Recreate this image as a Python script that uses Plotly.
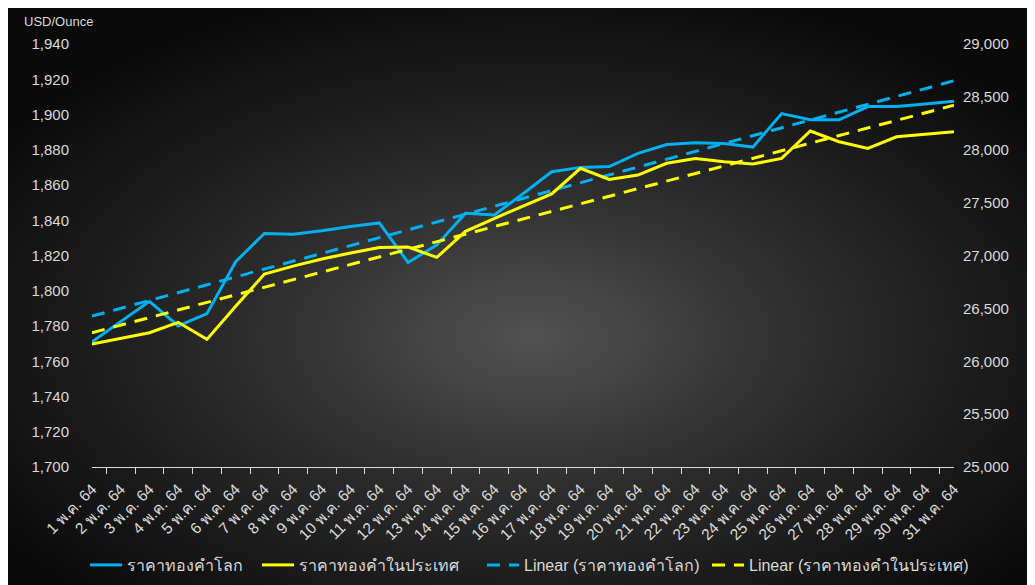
import base64
import numpy as np
import plotly.graph_objects as go

days = [f"{d} พ.ค. 64" for d in range(1, 32)]

world_usd = [1771, 1782.5, 1794, 1780, 1787, 1816.5, 1832.5, 1832, 1834, 1836.5,
             1838.5, 1816, 1826, 1844, 1843, 1855, 1867.5, 1870, 1870.5, 1878,
             1883, 1884, 1883.5, 1881.5, 1900.5, 1897, 1897, 1904.5, 1904.5, 1906,
             1907.5]

thai_thb = [26163, 26217, 26270, 26368, 26207, 26520, 26825, 26900, 26967, 27024,
            27075, 27080, 26982, 27229, 27352, 27468, 27582, 27825, 27720, 27761,
            27872, 27918, 27887, 27865, 27918, 28177, 28076, 28013, 28123, 28150,
            28171]

name_world = "ราคาทองคำโลก"
name_thai = "ราคาทองคำในประเทศ"

left_ticks = list(range(1700, 1941, 20))
right_ticks = list(range(25000, 29001, 500))

# Excel-style linear trendlines (least squares over category index)
idx = np.arange(1, len(days) + 1)
cw = np.polyfit(idx, world_usd, 1)
ct = np.polyfit(idx, thai_thb, 1)
trend_world = np.polyval(cw, idx)
trend_thai = np.polyval(ct, idx)

BLUE = "#00B0F0"
YELLOW = "#FFFF00"
TXT = "#d9d9d9"
FONT = "Liberation Sans, Arial, sans-serif"

fig = go.Figure()
fig.add_trace(go.Scatter(x=days, y=world_usd, name=name_world, mode="lines",
                         line=dict(color=BLUE, width=3), yaxis="y", legend="legend"))
fig.add_trace(go.Scatter(x=days, y=thai_thb, name=name_thai, mode="lines",
                         line=dict(color=YELLOW, width=3), yaxis="y2", legend="legend2"))
fig.add_trace(go.Scatter(x=days, y=trend_world, name=f"Linear ({name_world})", mode="lines",
                         line=dict(color=BLUE, width=3, dash="13px,9px"), yaxis="y",
                         legend="legend3"))
fig.add_trace(go.Scatter(x=days, y=trend_thai, name=f"Linear ({name_thai})", mode="lines",
                         line=dict(color=YELLOW, width=3, dash="13px,9px"), yaxis="y2",
                         legend="legend4"))

# figure is placed at (8,8) in the page
W, H = 1027, 577
L, T = 84, 36
pw, ph = 862, 423
R = W - L - pw
B = H - T - ph

svg = ("<svg xmlns='http://www.w3.org/2000/svg' width='1027' height='577'>"
       "<defs><radialGradient id='g' cx='0.51' cy='0.57' r='0.62'>"
       "<stop offset='0' stop-color='#525252'/>"
       "<stop offset='0.45' stop-color='#2c2c2c'/>"
       "<stop offset='1' stop-color='#0a0a0a'/>"
       "</radialGradient></defs>"
       "<rect width='1027' height='577' fill='url(#g)'/></svg>")
uri = "data:image/svg+xml;base64," + base64.b64encode(svg.encode()).decode()

fig.add_layout_image(dict(source=uri, xref="paper", yref="paper",
                          x=-L / pw, y=(H - B) / ph,
                          sizex=W / pw, sizey=H / ph,
                          xanchor="left", yanchor="top", sizing="stretch",
                          layer="below"))


def leg(screen_x):
    return dict(orientation="h", x=(screen_x - 8 - L) / pw, xanchor="left",
                y=(T + ph - 557) / ph, yanchor="middle",
                font=dict(size=16, color=TXT), bgcolor="rgba(0,0,0,0)",
                itemwidth=32, borderwidth=0)


fig.update_layout(
    width=W, height=H,
    margin=dict(l=L, r=R, t=T, b=B, autoexpand=False),
    paper_bgcolor="white",
    plot_bgcolor="rgba(0,0,0,0)",
    font=dict(family=FONT, color=TXT),
    showlegend=True,
    legend=leg(85),
    legend2=leg(257),
    legend3=leg(482),
    legend4=leg(707),
    xaxis=dict(type="category", tickangle=-45, tickson="boundaries",
               ticks="outside", ticklen=6, tickcolor=TXT,
               showline=True, linecolor=TXT, linewidth=1,
               showgrid=False, zeroline=False, ticklabelstandoff=6,
               tickfont=dict(size=15.5, color=TXT), automargin=False),
    yaxis=dict(range=[1700, 1940], tickvals=left_ticks, tickformat=",d",
               showgrid=False, zeroline=False, showline=False,
               tickfont=dict(size=15, color=TXT), ticks="", ticklabelstandoff=22,
               automargin=False),
    yaxis2=dict(range=[25000, 29000], tickvals=right_ticks, tickformat=",d",
                overlaying="y", side="right",
                showgrid=False, zeroline=False, showline=False,
                tickfont=dict(size=15, color=TXT), ticks="", ticklabelstandoff=8,
                automargin=False),
    annotations=[dict(text="USD/Ounce", xref="paper", yref="paper",
                      x=(22 - 8 - L) / pw, y=(T + ph - 14) / ph,
                      xanchor="left", yanchor="middle", showarrow=False,
                      font=dict(size=13, color=TXT))],
)

fig.write_html("out.html")
